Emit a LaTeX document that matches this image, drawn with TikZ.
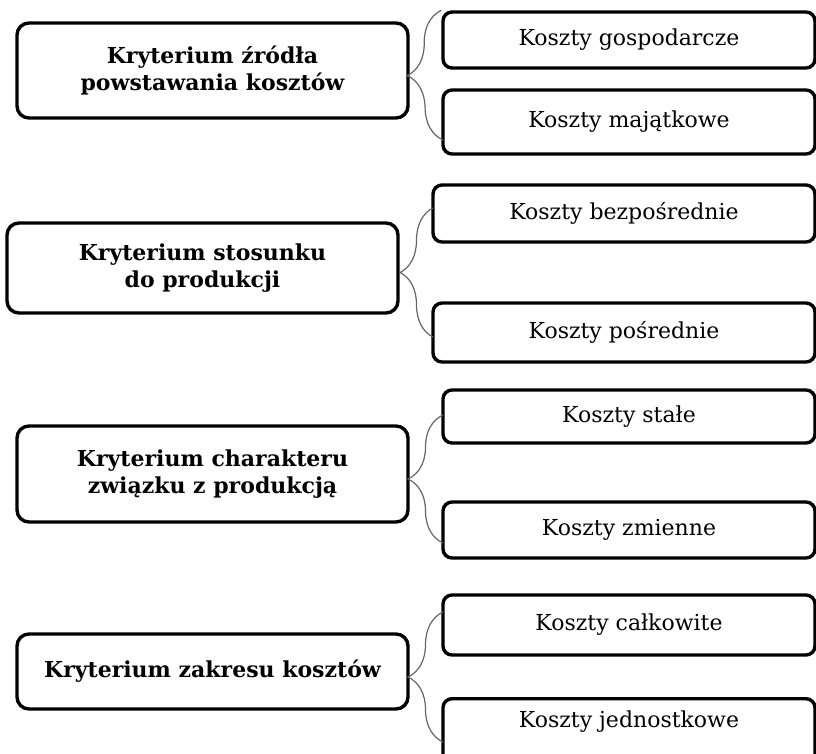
\documentclass[tikz,border=0pt]{standalone}
\usepackage{fontspec}
\setmainfont{DejaVu Serif}
\usetikzlibrary{decorations.pathreplacing}
\begin{document}
\begin{tikzpicture}[x=1pt, y=-1pt,
    kryt/.style={draw, line width=3.4pt, rounded corners=12pt, minimum width=391pt,
        align=center, inner sep=0pt, font=\fontsize{22}{27}\selectfont\bfseries},
    koszt/.style={draw, line width=3.4pt, rounded corners=9pt, inner sep=0pt,
        font=\fontsize{22}{25}\selectfont},
    klamra/.style={draw=black!60, line width=1.2pt, decorate,
        decoration={brace, amplitude=#1}}]
    \clip (0,0) rectangle (816,754);

    % kryterium 1
    \node[kryt, minimum height=95pt] (kr1) at (212.5,70.5) {Kryterium źródła\\powstawania kosztów};
    \node[koszt, minimum width=372pt, minimum height=56pt] (k1a) at (629,40) {Koszty gospodarcze};
    \node[koszt, minimum width=372pt, minimum height=64pt] (k1b) at (629,122) {Koszty majątkowe};
    \coordinate (b1) at (443,140);
    \draw[klamra=35pt] (b1) -- (k1a.north west);

    % kryterium 2
    \node[kryt, minimum height=90pt] (kr2) at (202.5,268) {Kryterium stosunku\\do produkcji};
    \node[koszt, minimum width=382pt, minimum height=57pt] (k2a) at (624,213.5) {Koszty bezpośrednie};
    \node[koszt, minimum width=382pt, minimum height=59pt] (k2b) at (624,332.5) {Koszty pośrednie};
    \coordinate (t2) at (433,208);
    \coordinate (b2) at (433,337);
    \draw[klamra=33pt] (b2) -- (t2);

    % kryterium 3
    \node[kryt, minimum height=96pt] (kr3) at (212.5,474) {Kryterium charakteru\\związku z produkcją};
    \node[koszt, minimum width=372pt, minimum height=53pt] (k3a) at (629,416.5) {Koszty stałe};
    \node[koszt, minimum width=372pt, minimum height=56pt] (k3b) at (629,530) {Koszty zmienne};
    \coordinate (t3) at (443,415);
    \coordinate (b3) at (443,543);
    \draw[klamra=35pt] (b3) -- (t3);

    % kryterium 4
    \node[kryt, minimum height=75pt] (kr4) at (212.5,671.5) {Kryterium zakresu kosztów};
    \node[koszt, minimum width=372pt, minimum height=60pt] (k4a) at (629,625) {Koszty całkowite};
    % ostatnia ramka wychodzi poza dolny brzeg
    \node[koszt, minimum width=372pt, minimum height=110pt, anchor=north,
        label={[anchor=center, yshift=-25pt, font=\fontsize{22}{25}\selectfont]north:Koszty jednostkowe}] (k4b) at (629,697) {};
    \coordinate (t4) at (443,612);
    \coordinate (b4) at (443,742);
    \draw[klamra=35pt] (b4) -- (t4);
\end{tikzpicture}
\end{document}
